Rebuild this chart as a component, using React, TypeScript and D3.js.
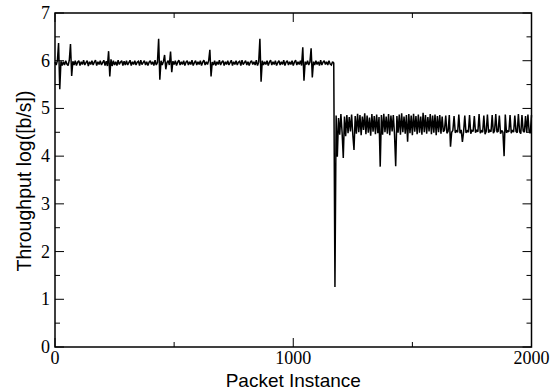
import React from "react";
import * as d3 from "d3";

// Packet index step between stored samples
const STEP = 5;

// Throughput before the drop (packets 0..1170)
const level1: number[] = [
  5.97, 5.91, 6.00, 6.37, 5.40, 5.99, 5.90, 5.98, 5.91, 6.00,
  5.93, 5.90, 6.01, 6.35, 5.68, 5.99, 5.91, 6.00, 5.90, 5.97,
  6.00, 5.90, 5.98, 5.92, 6.01, 5.91, 5.96, 6.00, 5.89, 5.98,
  5.92, 6.00, 5.91, 5.97, 6.01, 5.90, 5.98, 5.92, 6.00, 5.91,
  5.96, 6.01, 5.90, 5.99, 5.89, 6.20, 5.67, 6.03, 5.89, 6.00,
  5.91, 5.98, 5.90, 6.01, 5.92, 5.97, 6.00, 5.90, 5.99, 5.91,
  6.00, 5.91, 5.96, 6.01, 5.90, 5.98, 5.92, 6.00, 5.91, 5.97,
  5.99, 5.90, 6.01, 5.92, 5.96, 6.00, 5.91, 5.98, 5.90, 5.97,
  6.00, 5.92, 5.98, 5.90, 6.01, 5.91, 5.96, 6.46, 5.60, 6.00,
  5.91, 5.98, 6.12, 5.82, 5.96, 6.00, 5.91, 6.19, 5.76, 5.99,
  5.92, 6.00, 5.90, 5.97, 6.01, 5.91, 5.98, 5.92, 6.00, 5.90,
  5.97, 6.00, 5.91, 5.98, 5.92, 6.01, 5.90, 5.96, 6.00, 5.91,
  5.98, 5.92, 6.00, 5.90, 5.97, 6.01, 5.91, 5.98, 5.92, 6.00,
  6.23, 5.67, 5.97, 5.91, 6.00, 5.90, 5.98, 5.92, 6.01, 5.91,
  5.97, 6.00, 5.90, 5.98, 5.92, 6.00, 5.91, 5.96, 6.01, 5.90,
  5.98, 5.92, 6.00, 5.91, 5.97, 5.99, 5.90, 6.01, 5.92, 5.96,
  6.00, 5.91, 5.98, 5.90, 5.97, 6.00, 5.92, 5.98, 5.91, 6.01,
  5.90, 5.97, 6.46, 5.56, 6.00, 5.91, 5.98, 5.92, 6.00, 5.90,
  5.97, 6.01, 5.91, 5.98, 5.92, 6.00, 5.90, 5.96, 6.00, 5.91,
  5.98, 5.92, 6.01, 5.90, 5.97, 6.00, 5.91, 5.98, 5.92, 6.00,
  5.90, 5.97, 6.01, 5.91, 5.98, 5.92, 6.00, 5.90, 6.28, 5.58,
  5.98, 5.92, 6.00, 5.91, 5.97, 6.26, 5.65, 5.98, 5.91, 6.00,
  5.92, 5.98, 5.90, 6.01, 5.91, 5.97, 6.00, 5.92, 5.98, 5.91,
  6.00, 5.93, 5.91, 5.98, 5.95,
];

// Single sample at the drop (packet 1175)
const dropValue: number[] = [1.26];

// Throughput after the drop (packets 1180..2000)
const level2: number[] = [
  4.85, 3.99, 4.80, 4.45, 4.88, 4.50, 3.96, 4.83, 4.42, 4.86,
  4.48, 4.82, 4.52, 4.87, 4.45, 4.13, 4.84, 4.47, 4.89, 4.50,
  4.86, 4.44, 4.83, 4.55, 4.90, 4.46, 4.85, 4.49, 4.81, 4.43,
  4.88, 4.51, 4.84, 4.46, 4.87, 4.48, 4.82, 3.78, 4.86, 4.45,
  4.89, 4.50, 4.83, 4.47, 4.88, 4.44, 4.85, 4.52, 4.86, 4.46,
  3.79, 4.84, 4.49, 4.87, 4.45, 4.90, 4.50, 4.83, 4.47, 4.86,
  4.30, 4.88, 4.48, 4.85, 4.44, 4.89, 4.51, 4.84, 4.46, 4.87,
  4.49, 4.83, 4.45, 4.91, 4.50, 4.86, 4.47, 4.82, 4.52, 4.88,
  4.46, 4.85, 4.49, 4.87, 4.44, 4.84, 4.50, 4.86, 4.47, 4.83,
  4.51, 4.55, 4.85, 4.48, 4.52, 4.86, 4.20, 4.50, 4.54, 4.84,
  4.49, 4.53, 4.50, 4.87, 4.48, 4.55, 4.30, 4.51, 4.85, 4.49,
  4.53, 4.50, 4.86, 4.47, 4.54, 4.52, 4.84, 4.49, 4.55, 4.51,
  4.88, 4.48, 4.53, 4.50, 4.85, 4.46, 4.52, 4.87, 4.49, 4.54,
  4.51, 4.86, 4.48, 4.53, 4.88, 4.50, 4.52, 4.85, 4.47, 4.54,
  4.50, 4.00, 4.87, 4.49, 4.53, 4.51, 4.86, 4.48, 4.55, 4.50,
  4.85, 4.52, 4.49, 4.88, 4.51, 4.47, 4.86, 4.53, 4.50, 4.84,
  4.49, 4.87, 4.52, 4.48, 4.86,
];

const xTicks = [0, 1000, 2000];
const xMinorTicks = [500, 1500];
const yTicks = [0, 1, 2, 3, 4, 5, 6, 7];
const yMinorTicks = [0.5, 1.5, 2.5, 3.5, 4.5, 5.5, 6.5];

const W = 559;
const H = 392;
const M = { left: 55, right: 27.5, top: 13, bottom: 45 };

export default function App() {
  const values = [...level1, ...dropValue, ...level2];
  const data = values.map((v, i) => ({ x: i * STEP, y: v }));

  const x = d3.scaleLinear().domain([0, 2000]).range([M.left, W - M.right]);
  const y = d3.scaleLinear().domain([0, 7]).range([H - M.bottom, M.top]);

  const line = d3
    .line<{ x: number; y: number }>()
    .x((d) => x(d.x))
    .y((d) => y(d.y));

  const x0 = x(0), x1 = x(2000), y0 = y(0), y1 = y(7);
  const major = 9;
  const minor = 5;
  const serif = "'Liberation Serif', 'Times New Roman', serif";
  const sans = "'Liberation Sans', Arial, sans-serif";

  return (
    <svg width={W} height={H} style={{ position: "absolute", left: 0, top: 0, background: "#fff" }}>
      <rect x={0} y={0} width={W} height={H} fill="#fff" />
      <path d={line(data) ?? ""} fill="none" stroke="#000" strokeWidth={1.5} strokeLinejoin="miter" strokeMiterlimit={2} />
      {/* ticks */}
      <g stroke="#000" strokeWidth={1}>
        {xTicks.map((t) => (
          <g key={"xt" + t}>
            <line x1={x(t)} x2={x(t)} y1={y0} y2={y0 - major} />
            <line x1={x(t)} x2={x(t)} y1={y1} y2={y1 + major} />
          </g>
        ))}
        {xMinorTicks.map((t) => (
          <g key={"xm" + t}>
            <line x1={x(t)} x2={x(t)} y1={y0} y2={y0 - minor} />
            <line x1={x(t)} x2={x(t)} y1={y1} y2={y1 + minor} />
          </g>
        ))}
        {yTicks.map((t) => (
          <g key={"yt" + t}>
            <line x1={x0} x2={x0 + major} y1={y(t)} y2={y(t)} />
            <line x1={x1} x2={x1 - major} y1={y(t)} y2={y(t)} />
          </g>
        ))}
        {yMinorTicks.map((t) => (
          <g key={"ym" + t}>
            <line x1={x0} x2={x0 + minor} y1={y(t)} y2={y(t)} />
            <line x1={x1} x2={x1 - minor} y1={y(t)} y2={y(t)} />
          </g>
        ))}
      </g>
      <rect x={x0} y={y1} width={x1 - x0} height={y0 - y1} fill="none" stroke="#000" strokeWidth={1.5} />
      {/* tick labels */}
      <g fontFamily={serif} fontSize={18} fill="#000">
        {xTicks.map((t) => (
          <text key={"xl" + t} x={x(t)} y={y0 + 17} textAnchor="middle">
            {t}
          </text>
        ))}
        {yTicks.map((t) => (
          <text key={"yl" + t} x={x0 - 5} y={y(t) + 6} textAnchor="end">
            {t}
          </text>
        ))}
      </g>
      <text x={(x0 + x1) / 2} y={387} textAnchor="middle" fontFamily={sans} fontSize={19} fill="#000">
        Packet Instance
      </text>
      <text
        transform={`translate(30.5, 181) rotate(-90)`}
        textAnchor="middle"
        fontFamily={sans}
        fontSize={19.5}
        fill="#000"
      >
        Throughput log([b/s])
      </text>
    </svg>
  );
}
